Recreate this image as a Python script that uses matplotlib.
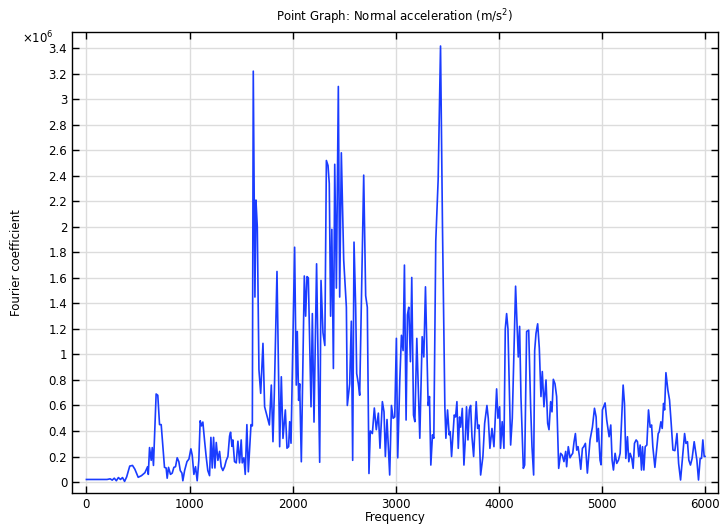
import matplotlib
matplotlib.use("Agg")
import matplotlib.pyplot as plt
import numpy as np

# frequency (Hz) and Fourier coefficient (x1e6)
freq = [0, 50, 100, 150, 200, 230, 250, 270, 290, 310, 330, 350, 370, 390, 420, 447, 470, 502, 534, 567,
        593, 600, 612, 628, 638, 650, 676, 692, 709, 725, 757, 773, 783, 796, 815, 832, 848, 864, 880, 896,
        910, 926, 935, 952, 975, 994, 1013, 1026, 1042, 1058, 1074, 1090, 1103, 1116, 1129, 1145, 1161, 1177, 1194, 1207,
        1220, 1233, 1246, 1259, 1275, 1291, 1307, 1323, 1340, 1356, 1372, 1388, 1398, 1411, 1420, 1436, 1453, 1469, 1485, 1501,
        1511, 1527, 1540, 1556, 1570, 1596, 1609, 1618, 1634, 1644, 1657, 1673, 1690, 1712, 1728, 1744, 1761, 1774, 1793, 1809,
        1822, 1848, 1874, 1890, 1906, 1929, 1945, 1961, 1971, 1984, 2019, 2035, 2045, 2058, 2068, 2084, 2113, 2126, 2139, 2152,
        2178, 2191, 2207, 2232, 2262, 2275, 2294, 2312, 2327, 2343, 2355, 2368, 2380, 2395, 2408, 2424, 2443, 2456, 2472, 2495,
        2521, 2530, 2553, 2569, 2582, 2595, 2611, 2621, 2637, 2650, 2689, 2708, 2724, 2740, 2753, 2773, 2792, 2811, 2831, 2847,
        2870, 2886, 2899, 2915, 2941, 2958, 2974, 2990, 3006, 3019, 3039, 3055, 3071, 3084, 3100, 3113, 3126, 3142, 3155, 3172,
        3185, 3204, 3233, 3256, 3272, 3288, 3314, 3327, 3340, 3356, 3369, 3388, 3411, 3434, 3453, 3476, 3486, 3502, 3518, 3528,
        3541, 3567, 3580, 3593, 3606, 3619, 3629, 3645, 3661, 3674, 3686, 3700, 3713, 3726, 3739, 3755, 3780, 3794, 3807, 3823,
        3845, 3862, 3884, 3897, 3913, 3933, 3952, 3978, 3991, 4007, 4016, 4032, 4049, 4062, 4075, 4088, 4114, 4130, 4162, 4188,
        4201, 4214, 4237, 4250, 4269, 4289, 4308, 4321, 4337, 4347, 4360, 4376, 4392, 4408, 4421, 4437, 4457, 4473, 4486, 4502,
        4515, 4528, 4544, 4560, 4580, 4599, 4615, 4631, 4648, 4657, 4673, 4690, 4703, 4716, 4729, 4742, 4755, 4768, 4781, 4794,
        4810, 4823, 4839, 4858, 4884, 4907, 4927, 4943, 4952, 4965, 4981, 4991, 5004, 5030, 5046, 5069, 5085, 5098, 5111, 5127,
        5143, 5160, 5176, 5192, 5205, 5218, 5231, 5247, 5260, 5273, 5289, 5302, 5315, 5331, 5344, 5357, 5370, 5383, 5393, 5406,
        5419, 5435, 5451, 5467, 5481, 5493, 5513, 5532, 5545, 5555, 5571, 5584, 5597, 5607, 5620, 5639, 5655, 5671, 5688, 5707,
        5727, 5743, 5762, 5782, 5801, 5814, 5829, 5842, 5858, 5874, 5894, 5910, 5920, 5936, 5952, 5965, 5978, 5991, 6000]

coef = [0.02, 0.02, 0.02, 0.02, 0.02, 0.025, 0.015, 0.03, 0.01, 0.035, 0.02, 0.035, 0.005, 0.04, 0.125, 0.13, 0.10, 0.037, 0.05, 0.073,
        0.12, 0.06, 0.27, 0.17, 0.27, 0.13, 0.69, 0.68, 0.45, 0.45, 0.115, 0.11, 0.03, 0.115, 0.06, 0.07, 0.115, 0.12, 0.19, 0.16,
        0.09, 0.07, 0.01, 0.09, 0.16, 0.18, 0.26, 0.21, 0.06, 0.12, 0.01, 0.17, 0.48, 0.44, 0.47, 0.33, 0.20, 0.09, 0.05, 0.35,
        0.11, 0.35, 0.11, 0.31, 0.17, 0.24, 0.12, 0.09, 0.12, 0.17, 0.20, 0.36, 0.39, 0.28, 0.33, 0.16, 0.15, 0.32, 0.15, 0.33,
        0.15, 0.19, 0.06, 0.45, 0.08, 0.45, 0.44, 3.22, 1.45, 2.21, 2.0, 0.88, 0.695, 1.087, 0.59, 0.54, 0.486, 0.447, 0.76, 0.316,
        0.69, 1.65, 0.277, 0.825, 0.342, 0.565, 0.265, 0.277, 0.473, 0.304, 1.84, 0.76, 1.18, 0.64, 0.77, 0.159, 1.615, 1.3, 1.61, 1.6,
        0.59, 1.32, 0.47, 1.71, 0.155, 1.58, 1.17, 1.07, 2.52, 2.48, 2.34, 1.3, 1.98, 0.89, 2.49, 1.52, 3.1, 1.45, 2.58, 1.74,
        1.37, 0.6, 0.77, 1.26, 0.17, 1.88, 1.37, 0.85, 0.77, 0.68, 2.405, 1.46, 1.37, 0.067, 0.4, 0.38, 0.58, 0.41, 0.54, 0.265,
        0.63, 0.55, 0.2, 0.49, 0.055, 0.6, 0.5, 0.51, 1.126, 0.19, 0.8, 1.15, 1.03, 1.70, 0.486, 1.31, 1.37, 0.943, 1.603, 0.525,
        0.473, 1.126, 0.343, 1.139, 0.98, 1.53, 0.6, 0.67, 0.133, 0.37, 0.343, 1.89, 2.37, 3.417, 2.0, 0.59, 0.343, 0.565, 0.37, 0.395,
        0.2, 0.525, 0.51, 0.63, 0.264, 0.51, 0.43, 0.577, 0.133, 0.33, 0.59, 0.33, 0.565, 0.6, 0.355, 0.2, 0.63, 0.42, 0.447, 0.055,
        0.2, 0.46, 0.6, 0.5, 0.264, 0.42, 0.277, 0.73, 0.5, 0.59, 0.264, 0.473, 0.264, 1.2, 1.32, 1.2, 0.29, 0.5, 1.535, 0.98,
        1.22, 0.668, 0.107, 0.133, 1.18, 1.19, 0.59, 0.277, 0.055, 1.03, 1.165, 1.24, 1.05, 0.67, 0.866, 0.59, 0.80, 0.46, 0.41, 0.63,
        0.55, 0.805, 0.77, 0.67, 0.107, 0.225, 0.21, 0.16, 0.24, 0.12, 0.277, 0.19, 0.21, 0.225, 0.316, 0.38, 0.25, 0.277, 0.2, 0.1,
        0.264, 0.277, 0.303, 0.07, 0.33, 0.43, 0.578, 0.51, 0.316, 0.42, 0.172, 0.135, 0.565, 0.62, 0.485, 0.355, 0.447, 0.172, 0.094, 0.225,
        0.146, 0.172, 0.225, 0.525, 0.76, 0.616, 0.185, 0.355, 0.159, 0.225, 0.185, 0.107, 0.303, 0.33, 0.316, 0.2, 0.29, 0.094, 0.277, 0.094,
        0.277, 0.29, 0.565, 0.43, 0.447, 0.277, 0.115, 0.277, 0.38, 0.393, 0.472, 0.42, 0.616, 0.565, 0.857, 0.72, 0.643, 0.46, 0.251, 0.246,
        0.38, 0.146, 0.016, 0.2, 0.38, 0.303, 0.316, 0.172, 0.133, 0.185, 0.316, 0.225, 0.172, 0.016, 0.185, 0.185, 0.33, 0.2, 0.2]

xticks = [0, 1000, 2000, 3000, 4000, 5000, 6000]
yticks = np.arange(0, 3.41, 0.2)

plt.rcParams['font.family'] = ['DejaVu Sans']
fs = 8.5

fig = plt.figure(figsize=(7.21, 5.26), dpi=100)
ax = fig.add_axes([72/721, 33/526, 646/721, 461/526])

ax.plot(freq, coef, color='#1a3cff', linewidth=1.2)

ax.set_xlim(-140, 6125)
ax.set_ylim(-0.086, 3.527)
ax.set_xticks(xticks)
ax.set_yticks(yticks)
ax.set_yticklabels(['%g' % round(t, 1) for t in yticks])
ax.grid(True, color='#dcdcdc', linewidth=1.0)
ax.set_axisbelow(True)
ax.tick_params(direction='in', top=True, right=True, labelsize=fs, length=5, width=1)
for s in ax.spines.values():
    s.set_linewidth(1.0)

ax.set_title('Point Graph: Normal acceleration (m/s$^2$)', fontsize=fs, pad=8)
ax.set_xlabel('Frequency', fontsize=fs, labelpad=0)
ax.set_ylabel('Fourier coefficient', fontsize=fs, labelpad=18)
fig.text(22/721, 1 - 38/526, '\u00d710$^6$', fontsize=fs, va='center', ha='left')

fig.savefig('out.png', dpi=100)
